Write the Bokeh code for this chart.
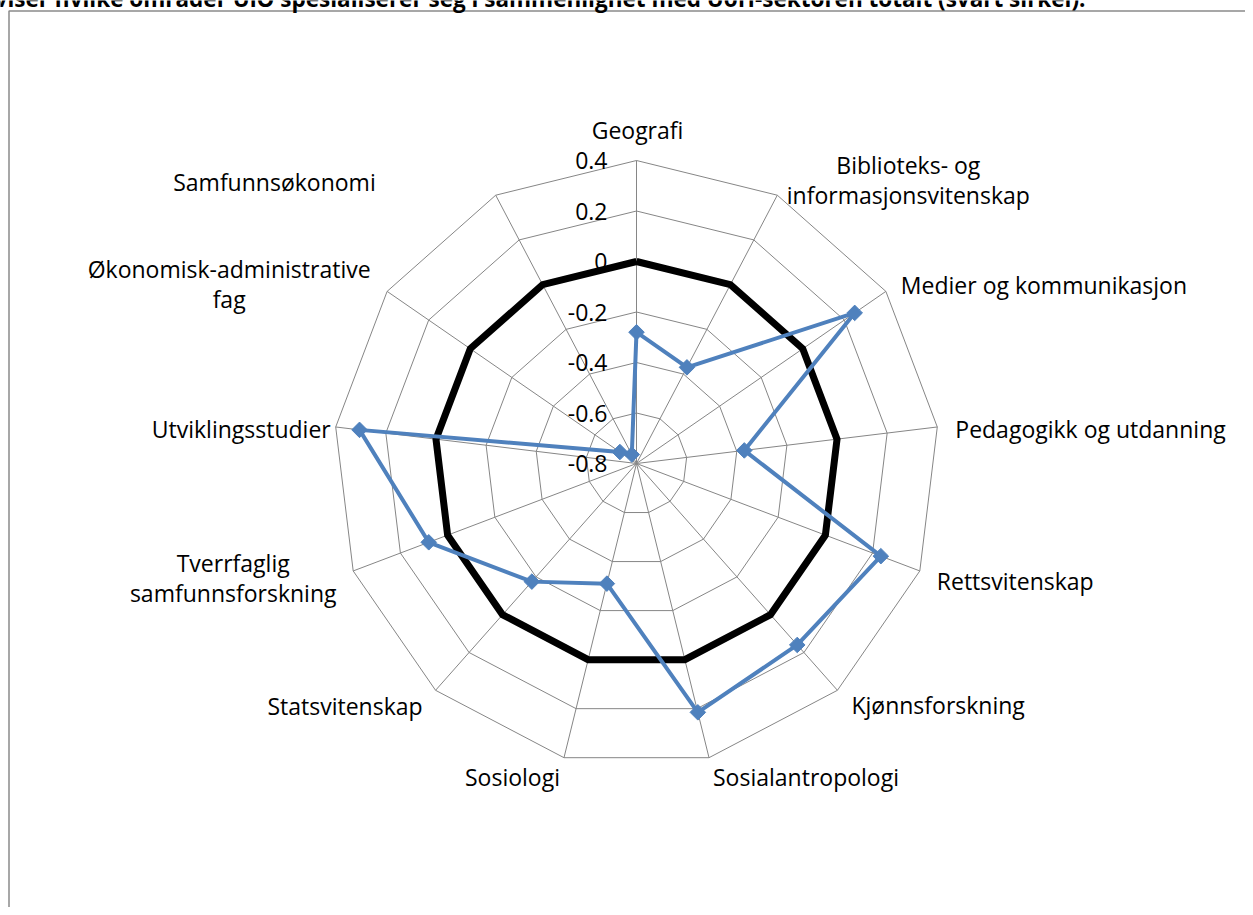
import numpy as np
from bokeh.plotting import figure
from bokeh.models import Range1d, ColumnDataSource
from bokeh.core.properties import value
from bokeh.embed import file_html
from bokeh.resources import INLINE

# ---------------- data ----------------
categories = [
    "Geografi",
    "Biblioteks- og\ninformasjonsvitenskap",
    "Medier og kommunikasjon",
    "Pedagogikk og utdanning",
    "Rettsvitenskap",
    "Kjønnsforskning",
    "Sosialantropologi",
    "Sosiologi",
    "Statsvitenskap",
    "Tverrfaglig\nsamfunnsforskning",
    "Utviklingsstudier",
    "Økonomisk-administrative\nfag",
    "Samfunnsøkonomi",
]
uio_values = [-0.28, -0.37, 0.25, -0.37, 0.235, 0.16, 0.215, -0.31, -0.175, 0.08, 0.305, -0.72, -0.76]
sector_values = [0, 0, 0, 0, 0, 0, 0, 0, 0, 0, 0, 0, 0]
tick_values = [0.4, 0.2, 0.0, -0.2, -0.4, -0.6, -0.8]
tick_labels = ["0.4", "0.2", "0", "-0.2", "-0.4", "-0.6", "-0.8"]
title_text = "viser hvilke områder UiO spesialiserer seg i sammenlighet med UoH-sektoren totalt (svart sirkel)."

# ---------------- layout / style ----------------
W, H = 1245, 907
CX, CY = 636, 463          # canvas position of the radar centre
S = 252.5                  # pixels per value unit
R_MIN, R_MAX = -0.8, 0.4
FONT = "Open Sans"
FS = "23px"
LINE_H = 30
SHIFT = 8                  # baseline correction (px, upward)
label_align = ["center", "center", "left", "left", "left", "left", "left",
               "right", "right", "center", "right", "center", "right"]
label_dx = [1, 131, 15, 18, 17, 14, 4, -4, -13, -120, -5, -158, -120]
label_dy = [-23, -22, 2, 10, 18, 23, 27, 27, 24, 0, 10, -14, -5]

GRID = "#868686"
BLUE = "#4F81BD"

n = len(categories)
theta = np.arange(n) * 2 * np.pi / n


def polar(vals):
    r = np.asarray(vals, dtype=float) - R_MIN
    return r * np.sin(theta), r * np.cos(theta)


def cx(px):
    return (px - CX) / S


def cy(py):
    return (CY - py) / S


p = figure(width=W, height=H, output_backend="svg", toolbar_location=None,
           x_range=Range1d(cx(0), cx(W)),
           y_range=Range1d(cy(H), cy(0)),
           min_border=0, min_border_left=0, min_border_right=0,
           min_border_top=0, min_border_bottom=0)
p.axis.visible = False
p.grid.visible = False
p.outline_line_color = None
p.background_fill_color = "white"
p.border_fill_color = "white"

# chart border (left + top edge visible in reference)
p.line([cx(8.5), cx(8.5), cx(W)], [cy(H), cy(10.5), cy(10.5)],
       line_color="#8a8a8a", line_width=1.5)

# rings
ring_xs, ring_ys = [], []
for t in tick_values[:-1]:
    x, y = polar([t] * n)
    ring_xs.append(list(x) + [x[0]])
    ring_ys.append(list(y) + [y[0]])
p.multi_line(ring_xs, ring_ys, line_color=GRID, line_width=1)

# spokes
ox, oy = polar([R_MAX] * n)
p.multi_line([[0, ox[i]] for i in range(n)], [[0, oy[i]] for i in range(n)],
             line_color=GRID, line_width=1)

# sector (black) series
sx, sy = polar(sector_values)
p.line(list(sx) + [sx[0]], list(sy) + [sy[0]], line_color="black", line_width=7,
       line_join="miter")

# UiO series
ux, uy = polar(uio_values)
p.line(list(ux) + [ux[0]], list(uy) + [uy[0]], line_color=BLUE, line_width=4,
       line_join="round")
p.scatter(ux, uy, marker="square", angle=np.pi / 4, size=11,
          fill_color=BLUE, line_color=BLUE)

# tick labels
tk_x = [-29 / S] * len(tick_values)
tk_y = [(t - R_MIN) - (8 - SHIFT) / S for t in tick_values]
p.text(tk_x, tk_y, text=tick_labels, text_align="right", text_baseline="alphabetic",
       text_font=value(FONT), text_font_size=FS, text_color="black")

# category labels
lx, ly, lt, la = [], [], [], []
for i, cat in enumerate(categories):
    for k, line in enumerate(cat.split("\n")):
        lx.append(ox[i] + label_dx[i] / S)
        ly.append(oy[i] - (label_dy[i] - SHIFT + k * LINE_H) / S)
        lt.append(line)
        la.append(label_align[i])
src = ColumnDataSource(dict(x=lx, y=ly, text=lt, align=la))
p.text("x", "y", text="text", text_align="align", text_baseline="alphabetic",
       text_font=value(FONT), text_font_size=FS, text_color="black", source=src)

# title (cut off at the top edge like the reference)
p.text([cx(1085)], [cy(6 - SHIFT)], text=[title_text], text_align="right",
       text_baseline="alphabetic", text_font=value(FONT), text_font_size="22.5px",
       text_font_style="bold", text_color="black")

open("out.html", "w").write(file_html(p, INLINE))
